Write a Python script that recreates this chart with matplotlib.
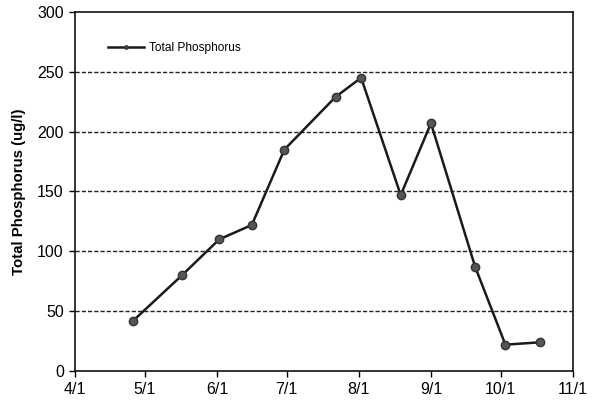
import numpy as np
import matplotlib
matplotlib.use("Agg")
import matplotlib.pyplot as plt
import matplotlib.dates as mdates
import pandas as pd

plt.rcParams['font.family'] = ['Liberation Sans', 'DejaVu Sans']

# sample dates and total phosphorus (ug/l)
sample_dates = ['2003-04-26', '2003-05-17', '2003-06-02', '2003-06-16', '2003-06-30',
                '2003-07-22', '2003-08-02', '2003-08-19', '2003-09-01', '2003-09-20',
                '2003-10-03', '2003-10-18']
phosphorus = [42, 80, 110, 122, 185, 229, 245, 147, 207, 87, 22, 24]
tick_dates = ['2003-04-01', '2003-05-01', '2003-06-01', '2003-07-01', '2003-08-01',
              '2003-09-01', '2003-10-01', '2003-11-01']
tick_labels = ['4/1', '5/1', '6/1', '7/1', '8/1', '9/1', '10/1', '11/1']

x = pd.to_datetime(sample_dates)
xt = pd.to_datetime(tick_dates)

fig = plt.figure(figsize=(5.97, 4.03), dpi=100)
ax = fig.add_axes([0.1256, 0.0794, 0.834, 0.891])

for yv in [50, 100, 150, 200, 250]:
    ax.axhline(yv, color='#222222', linestyle=(0, (3, 1.5)), linewidth=1.0, zorder=1)

ax.plot(x, phosphorus, color='#1a1a1a', linewidth=1.8, marker='o', markersize=6,
        markerfacecolor='#555555', markeredgecolor='#333333', label='Total Phosphorus', zorder=3)

ax.set_xlim(xt[0], xt[-1])
ax.set_ylim(0, 300)
ax.set_xticks(xt)
ax.set_xticklabels(tick_labels)
ax.set_yticks([0, 50, 100, 150, 200, 250, 300])
ax.tick_params(axis='both', labelsize=11.5, direction='out', length=4, width=1, pad=4)
ax.set_ylabel('Total Phosphorus (ug/l)', fontsize=10.8, fontweight='bold', labelpad=8)

for s in ax.spines.values():
    s.set_linewidth(1.2)
    s.set_color('#111111')

leg = ax.legend(loc='upper left', bbox_to_anchor=(0.045, 0.945), frameon=False,
                fontsize=8.6, handlelength=3.0, markerscale=0.4, handletextpad=0.4)

fig.savefig('out.png', dpi=100)
